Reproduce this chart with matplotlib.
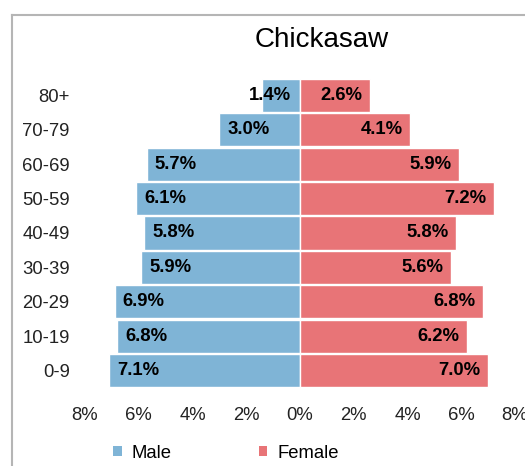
import matplotlib
matplotlib.use('Agg')
import matplotlib.pyplot as plt
from matplotlib.patches import Patch
from matplotlib.lines import Line2D

plt.rcParams['font.family'] = ['Liberation Sans', 'DejaVu Sans']

# population share by age group
age_groups = ['0-9', '10-19', '20-29', '30-39', '40-49', '50-59', '60-69', '70-79', '80+']
male = [7.1, 6.8, 6.9, 5.9, 5.8, 6.1, 5.7, 3.0, 1.4]
female = [7.0, 6.2, 6.8, 5.6, 5.8, 7.2, 5.9, 4.1, 2.6]
ticks = [-8, -6, -4, -2, 0, 2, 4, 6, 8]
tick_labels = ['8%', '6%', '4%', '2%', '0%', '2%', '4%', '6%', '8%']

blue = '#7fb4d6'
red = '#e87477'

fig = plt.figure(figsize=(5.25, 4.66), dpi=100)
ax = fig.add_axes([85 / 525, 1 - 388 / 466, 430 / 525, 310 / 466])

y = list(range(len(age_groups)))
ax.barh(y, [-v for v in male], height=0.96, color=blue, edgecolor='white', linewidth=1)
ax.barh(y, female, height=0.96, color=red, edgecolor='white', linewidth=1)

for i, (m, f) in enumerate(zip(male, female)):
    if m < 2:
        ax.text(-0.35, i, f'{m:.1f}%', ha='right', va='center', fontsize=13.3, fontweight='bold')
    else:
        ax.text(-m + 0.3, i, f'{m:.1f}%', ha='left', va='center', fontsize=13.3, fontweight='bold')
    ax.text(f - 0.27, i, f'{f:.1f}%', ha='right', va='center', fontsize=13.3, fontweight='bold')

ax.set_xlim(-8, 8)
ax.set_ylim(-0.5, len(age_groups) - 0.5)
ax.set_xticks(ticks)
ax.set_xticklabels(tick_labels)
ax.set_yticks(y)
ax.set_yticklabels(age_groups)
ax.tick_params(axis='both', length=0, labelsize=13.3, colors='#222222')
ax.tick_params(axis='x', pad=14)
ax.tick_params(axis='y', pad=11)
for s in ax.spines.values():
    s.set_visible(False)

fig.text(322 / 525, 1 - 40 / 466, 'Chickasaw', ha='center', va='center', fontsize=20)

handles = [Patch(facecolor=blue, edgecolor='none'), Patch(facecolor=red, edgecolor='none')]
fig.legend(handles, ['Male', 'Female'], loc='center', bbox_to_anchor=(226 / 525, 1 - 453 / 466),
           ncol=2, frameon=False, fontsize=13.3, handlelength=0.45, handleheight=0.45,
           handletextpad=0.55, columnspacing=4.7)

# frame lines around the chart area
fig.add_artist(Line2D([12 / 525, 12 / 525], [0, 1 - 15 / 466], color='#b5b5b5', lw=1.5))
fig.add_artist(Line2D([12 / 525, 1], [1 - 15 / 466, 1 - 15 / 466], color='#b5b5b5', lw=1.5))

fig.savefig('out.png', dpi=100)
